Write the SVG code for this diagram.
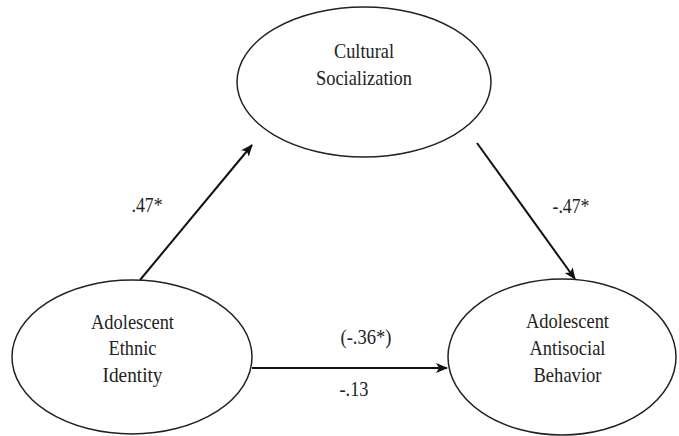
<svg xmlns="http://www.w3.org/2000/svg" width="679" height="436" viewBox="0 0 679 436">
<style>
.node ellipse{fill:#fff;stroke:#222;stroke-width:1.5}
text{font-family:"Liberation Serif","Times New Roman",serif;font-size:22px;fill:#222;text-anchor:middle}
.edge{stroke:#111;stroke-width:2;fill:none;marker-end:url(#ah)}
</style>
<defs>
<marker id="ah" viewBox="0 0 12 10" refX="11" refY="5" markerWidth="12" markerHeight="10" markerUnits="userSpaceOnUse" orient="auto">
<path d="M0,0 L12,5 L0,10 L3,5 z" fill="#111"/>
</marker>
</defs>
<rect width="679" height="436" fill="#fff"/>
<g id="connectors">
<line class="edge" x1="140" y1="280" x2="252" y2="145"/>
<line class="edge" x1="477" y1="143" x2="575" y2="279"/>
<line class="edge" x1="252" y1="368" x2="447" y2="368"/>
<text x="147" y="212" textLength="31" lengthAdjust="spacingAndGlyphs">.47*</text>
<text x="571" y="213" textLength="37" lengthAdjust="spacingAndGlyphs">-.47*</text>
<text x="366" y="344" textLength="51" lengthAdjust="spacingAndGlyphs">(-.36*)</text>
<text x="354" y="396" textLength="29" lengthAdjust="spacingAndGlyphs">-.13</text>
</g>
<g id="cultural" class="node">
<ellipse cx="364" cy="82" rx="127" ry="75"/>
<text x="364" y="58" textLength="60" lengthAdjust="spacingAndGlyphs">Cultural</text>
<text x="364" y="85" textLength="96" lengthAdjust="spacingAndGlyphs">Socialization</text>
</g>
<g id="ethnic" class="node">
<ellipse cx="132" cy="357" rx="120" ry="77"/>
<text x="132.5" y="329" textLength="83" lengthAdjust="spacingAndGlyphs">Adolescent</text>
<text x="132.5" y="355" textLength="48" lengthAdjust="spacingAndGlyphs">Ethnic</text>
<text x="132.5" y="382" textLength="60" lengthAdjust="spacingAndGlyphs">Identity</text>
</g>
<g id="antisocial" class="node">
<ellipse cx="562" cy="357" rx="114" ry="78"/>
<text x="567.5" y="328" textLength="83" lengthAdjust="spacingAndGlyphs">Adolescent</text>
<text x="567.5" y="355" textLength="76" lengthAdjust="spacingAndGlyphs">Antisocial</text>
<text x="567.5" y="382" textLength="68" lengthAdjust="spacingAndGlyphs">Behavior</text>
</g>
</svg>
